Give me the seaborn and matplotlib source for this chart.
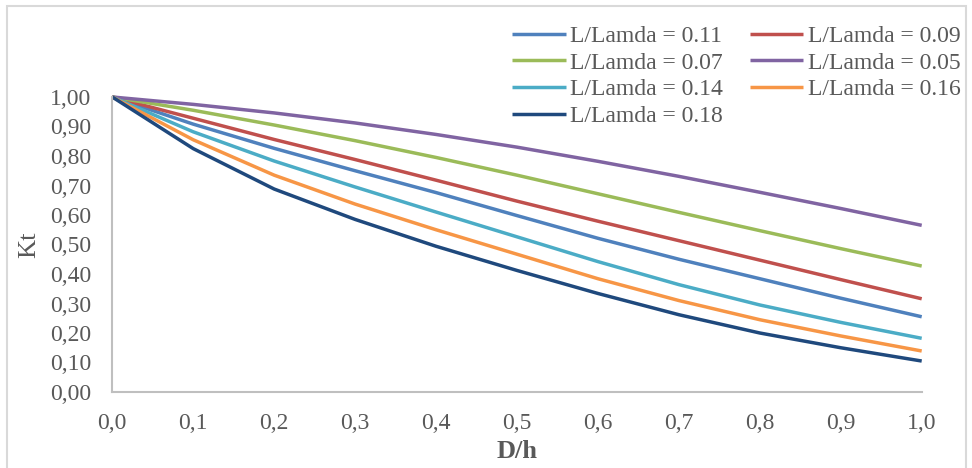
import matplotlib
matplotlib.use("Agg")
import matplotlib.pyplot as plt
import seaborn as sns
import pandas as pd
from matplotlib.patches import Rectangle

# ---- data ----
d_over_h = [0.0, 0.1, 0.2, 0.3, 0.4, 0.5, 0.6, 0.7, 0.8, 0.9, 1.0]
kt_011 = [1.00, 0.908, 0.826, 0.750, 0.676, 0.598, 0.521, 0.450, 0.384, 0.318, 0.255]
kt_009 = [1.00, 0.928, 0.856, 0.788, 0.718, 0.647, 0.579, 0.513, 0.447, 0.381, 0.316]
kt_007 = [1.00, 0.955, 0.905, 0.852, 0.795, 0.735, 0.672, 0.609, 0.547, 0.486, 0.427]
kt_005 = [1.00, 0.975, 0.946, 0.912, 0.873, 0.830, 0.782, 0.731, 0.677, 0.622, 0.565]
kt_014 = [1.00, 0.882, 0.783, 0.695, 0.610, 0.526, 0.442, 0.364, 0.295, 0.236, 0.182]
kt_016 = [1.00, 0.855, 0.735, 0.637, 0.550, 0.467, 0.384, 0.310, 0.245, 0.190, 0.139]
kt_018 = [1.00, 0.825, 0.688, 0.585, 0.494, 0.412, 0.334, 0.262, 0.200, 0.150, 0.105]

series_labels = ["L/Lamda = 0.11", "L/Lamda = 0.09", "L/Lamda = 0.07", "L/Lamda = 0.05",
                 "L/Lamda = 0.14", "L/Lamda = 0.16", "L/Lamda = 0.18"]
series_values = [kt_011, kt_009, kt_007, kt_005, kt_014, kt_016, kt_018]
series_colors = ["#4F81BD", "#C0504D", "#9BBB59", "#8064A2", "#4BACC6", "#F79646", "#1F497D"]

x_ticks = [0.0, 0.1, 0.2, 0.3, 0.4, 0.5, 0.6, 0.7, 0.8, 0.9, 1.0]
y_ticks = [0.0, 0.1, 0.2, 0.3, 0.4, 0.5, 0.6, 0.7, 0.8, 0.9, 1.0]

rows = []
for lab, vals in zip(series_labels, series_values):
    for x, y in zip(d_over_h, vals):
        rows.append({"D/h": x, "Kt": y, "series": lab})
df = pd.DataFrame(rows)

sns.set_theme(style="white")
plt.rcParams["font.family"] = ["Liberation Serif", "DejaVu Serif"]
text_color = "#595959"
axis_color = "#BFBFBF"

fig = plt.figure(figsize=(9.72, 4.68), dpi=100)
ax = fig.add_axes([112.3 / 972, 1 - 392 / 468, (921.7 - 112.3) / 972, (392 - 97) / 468])

sns.lineplot(data=df, x="D/h", y="Kt", hue="series", hue_order=series_labels,
             palette=dict(zip(series_labels, series_colors)), linewidth=2.5,
             ax=ax, legend=False, estimator=None, sort=True)
for ln in ax.get_lines():
    ln.set_solid_capstyle("butt")
    ln.set_solid_joinstyle("round")
    ln.set_clip_on(False)

ax.set_xlim(0, 1.0)
ax.set_ylim(0, 1.0)
ax.set_xticks(x_ticks)
ax.set_yticks(y_ticks)
ax.set_xticklabels([f"{v:.1f}".replace(".", ",") for v in x_ticks])
ax.set_yticklabels([f"{v:.2f}".replace(".", ",") for v in y_ticks])
ax.tick_params(axis="both", length=0, labelsize=17, colors=text_color)
ax.tick_params(axis="y", pad=15)
ax.tick_params(axis="x", pad=15)

for side in ["top", "right"]:
    ax.spines[side].set_visible(False)
for side in ["left", "bottom"]:
    ax.spines[side].set_color(axis_color)
    ax.spines[side].set_linewidth(1.5)

ax.set_xlabel("D/h", fontsize=19, fontweight="bold", color=text_color)
ax.set_ylabel("Kt", fontsize=19, color=text_color)
ax.xaxis.set_label_coords(0.5, -(451 - 392) / 295)
ax.xaxis.label.set_va("center")
ax.yaxis.set_label_coords(-(112.3 - 29) / 809.4, 0.5)
ax.yaxis.label.set_va("center")

# legend: two columns, row-wise order as in the reference
lines = dict(zip(series_labels, ax.get_lines()))
order = ["L/Lamda = 0.11", "L/Lamda = 0.07", "L/Lamda = 0.14", "L/Lamda = 0.18",
         "L/Lamda = 0.09", "L/Lamda = 0.05", "L/Lamda = 0.16"]
leg = fig.legend([lines[k] for k in order], order, ncol=2, frameon=False,
                 loc="upper left", bbox_to_anchor=(503 / 972, 1 - 16 / 468),
                 fontsize=17, handlelength=2.25, handletextpad=0.2,
                 columnspacing=1.15, labelspacing=0.22, borderaxespad=0)
for t in leg.get_texts():
    t.set_color(text_color)

# outer chart border
fig.patches.append(Rectangle((7 / 972, -0.05), (966 - 7) / 972, 1.05 - 6 / 468,
                             transform=fig.transFigure, fill=False,
                             edgecolor="#D9D9D9", linewidth=1.5))

fig.savefig("out.png", dpi=100)
